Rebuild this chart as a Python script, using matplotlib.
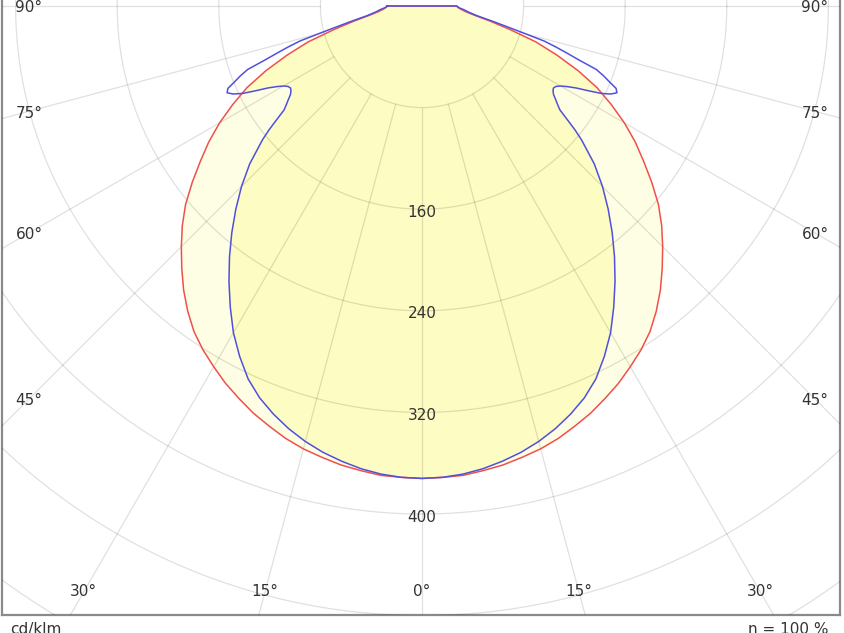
import numpy as np
import matplotlib
matplotlib.use("Agg")
import matplotlib.pyplot as plt

# luminous intensity (cd/klm) vs angle from nadir (deg), symmetric half-planes
red_angles = [0, 2.5, 5, 7.5, 10, 12.5, 15, 17.5, 20, 22.5, 25, 27.5, 30, 32.5, 35, 37.5,
              40, 42.5, 45, 47.5, 50, 52.5, 55, 57.5, 60, 62.5, 65, 67.5, 70, 72.5, 75,
              77.5, 80, 82.5, 85, 87.5, 90]
red_values = [372, 371.5, 371, 369, 367, 364, 361, 357, 352, 347, 341, 335, 328, 321, 313,
              303, 292, 280, 268, 256, 243, 228, 213, 199, 184, 168, 152, 133, 113, 94, 72,
              55, 42, 35, 31, 28.5, 27]

blue_angles = [0, 2.5, 5, 7.5, 10, 12.5, 15, 17.5, 20, 22.5, 25, 27.5, 30, 32.5, 35, 37.5,
               40, 42.5, 45, 47.5, 50, 51, 52, 53, 54, 55, 56, 57, 58, 59, 60, 61, 62, 63,
               64, 65, 66, 67, 68, 69, 70, 71, 72, 73, 74, 75, 76, 77.5, 80, 82.5, 85,
               87.5, 90]
blue_values = [372, 371.5, 370, 367.5, 364, 360, 355, 349, 342, 334, 324, 311, 297, 281,
               265, 249, 233, 217, 201, 184, 164, 155, 145, 136, 132, 128.5, 125, 123, 122,
               123, 126, 131, 137.5, 147, 157, 164, 168, 166, 159, 153, 146, 131, 120, 110,
               100, 84, 72, 59, 44, 37, 33, 29, 27.5]

ring_values = [80, 160, 240, 320, 400, 480, 560]
ring_labels = [160, 240, 320, 400]
spoke_angles = list(range(-90, 91, 15))
bottom_labels = [-30, -15, 0, 15, 30]
side_labels = [45, 60, 75, 90]

SCALE = 1.27          # pixels per cd/klm
CX, CY = 422, 6       # pole position in pixels
W, H = 844, 633
GRID = (0, 0, 0, 0.12)
TEXT = "#333333"


def to_xy(angles, values):
    a = np.radians(np.asarray(angles, dtype=float))
    v = np.asarray(values, dtype=float)
    return v * np.sin(a), -v * np.cos(a)


def closed_curve(angles, values):
    x, y = to_xy(angles, values)
    xs = np.concatenate([-x[::-1], x[1:]])
    ys = np.concatenate([y[::-1], y[1:]])
    return np.append(xs, xs[0]), np.append(ys, ys[0])


fig = plt.figure(figsize=(W / 100, H / 100), dpi=100)
left_px, right_px, bottom_px = 2, 840, 615
ax = fig.add_axes([left_px / W, (H - bottom_px) / H, (right_px - left_px) / W, bottom_px / H])
ax.set_xlim((left_px - CX) / SCALE, (right_px - CX) / SCALE)
ax.set_ylim(-(bottom_px - CY) / SCALE, CY / SCALE)
ax.set_xticks([])
ax.set_yticks([])
ax.spines["top"].set_visible(False)
for s in ("left", "right", "bottom"):
    ax.spines[s].set_color("#8a8a8a")
    ax.spines[s].set_linewidth(1.6)

# fills: pale inside the red curve, stronger yellow where both curves overlap
rx, ry = closed_curve(red_angles, red_values)
bx, by = closed_curve(blue_angles, blue_values)
outer = ax.fill(rx, ry, color="#fefee4", lw=0, zorder=1)[0]
inner = ax.fill(bx, by, color="#fdfcc2", lw=0, zorder=2)[0]
inner.set_clip_path(outer)

# grid
t = np.linspace(0, 2 * np.pi, 721)
for r in ring_values:
    ax.plot(r * np.cos(t), r * np.sin(t), color=GRID, lw=0.9, zorder=3)
for a in spoke_angles:
    sx, sy = to_xy([a, a], [80, 900])
    ax.plot(sx, sy, color=GRID, lw=0.9, zorder=3)

# curves
ax.plot(rx, ry, color="#f0504a", lw=1.1, zorder=4)
ax.plot(bx, by, color="#5050dc", lw=1.1, zorder=5)

# labels
for r in ring_labels:
    ax.text(0, -r - 2.5, str(r), ha="center", va="center", fontsize=11, color=TEXT, zorder=6)

y_bot = -(592 - CY) / SCALE
for a in bottom_labels:
    ax.text(-y_bot * np.tan(np.radians(a)), y_bot, f"{abs(a)}°", ha="center", va="center",
            fontsize=11, color=TEXT, zorder=6)

x_side = 393 / SCALE
for a in side_labels:
    yy = -x_side / np.tan(np.radians(a))
    for sgn in (-1, 1):
        ax.text(sgn * x_side, yy - 1.5, f"{a}°", ha="center", va="center", fontsize=11,
                color=TEXT, zorder=6)

fig.text(10 / W, 1 - 622 / H, "cd/klm", ha="left", va="top", fontsize=11, color=TEXT)
fig.text(828 / W, 1 - 622 / H, "η = 100 %", ha="right", va="top", fontsize=11, color=TEXT)

fig.savefig("out.png", dpi=100)
